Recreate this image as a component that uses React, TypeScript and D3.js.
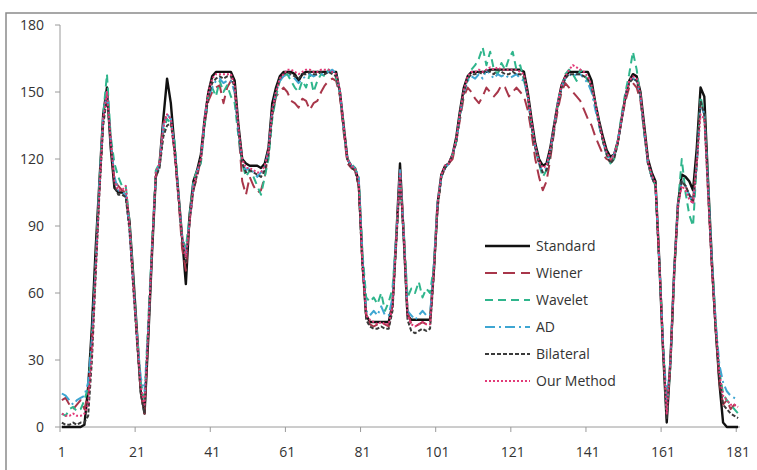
import React from "react";
import * as d3 from "d3";

const yTicks = [0, 30, 60, 90, 120, 150, 180];
const xTickLabels = [1, 21, 41, 61, 81, 101, 121, 141, 161, 181];
const seriesNames = ["Standard", "Wiener", "Wavelet", "AD", "Bilateral", "Our Method"];

const standard = [
  0, 0, 0, 0, 0, 0, 1, 18, 45, 80,
  110, 140, 152, 125, 107, 105, 105, 104, 92, 68,
  42, 16, 6, 40, 78, 112, 118, 138, 156, 145,
  125, 105, 85, 64, 95, 110, 115, 122, 138, 150,
  157, 159, 159, 159, 159, 159, 155, 135, 120, 118,
  117, 117, 117, 116, 118, 125, 145, 152, 157, 159,
  159, 159, 158, 155, 158, 159, 159, 159, 159, 159,
  159, 159, 159, 159, 150, 135, 120, 117, 116, 110,
  75, 50, 47, 47, 47, 47, 47, 47, 55, 85,
  118, 85, 50, 48, 48, 48, 48, 48, 48, 70,
  100, 113, 117, 118, 122, 130, 142, 152, 157, 159,
  159, 159, 159, 159, 160, 160, 160, 160, 160, 160,
  160, 160, 160, 159, 150, 138, 127, 120, 117, 118,
  125, 135, 145, 153, 157, 159, 159, 159, 159, 159,
  159, 155, 145, 137, 130, 124, 121, 122, 128, 138,
  148, 155, 158, 157, 150, 135, 120, 114, 110, 75,
  35, 2, 30, 70, 100, 113, 112, 110, 106, 125,
  152, 148, 110, 75, 45, 20, 2, 0, 0, 0, 0,
];

const wiener = [
  12, 13, 10, 8, 10, 12, 8, 15, 38, 72,
  108, 138, 150, 128, 110, 108, 106, 105, 90, 66,
  40, 15, 6, 42, 80, 112, 118, 136, 140, 138,
  122, 103, 80, 70, 92, 106, 112, 120, 136, 146,
  150, 152, 153, 145, 152, 155, 150, 133, 110, 104,
  112, 108, 105, 106, 112, 123, 140, 148, 150, 152,
  150, 146, 145, 143, 147, 146, 142, 145, 146, 150,
  153, 155, 156, 155, 148, 132, 118, 116, 115, 108,
  72, 50, 46, 45, 46, 47, 46, 45, 55, 85,
  115, 88, 52, 46, 45, 46, 47, 46, 46, 70,
  98, 112, 116, 118, 120, 128, 138, 148, 152, 150,
  147, 145, 148, 152, 150, 148, 150, 153, 152, 148,
  150, 152, 150, 148, 142, 132, 120, 112, 106, 110,
  120, 132, 142, 150, 154, 152, 150, 148, 146, 142,
  138, 135, 130, 126, 122, 120, 119, 121, 128, 138,
  146, 152, 154, 152, 146, 132, 118, 112, 108, 75,
  38, 8, 28, 68, 98, 110, 108, 104, 102, 120,
  145, 140, 105, 72, 44, 20, 10, 12, 8, 10, 8,
];

const wavelet = [
  6, 5, 8, 9, 7, 8, 12, 18, 38, 72,
  110, 140, 158, 130, 118, 112, 108, 108, 92, 66,
  42, 20, 12, 48, 82, 115, 118, 132, 138, 136,
  128, 105, 85, 80, 95, 110, 115, 118, 135, 148,
  152, 148, 155, 150, 153, 148, 145, 130, 118, 112,
  115, 112, 108, 104, 112, 120, 138, 148, 155, 157,
  158, 155, 152, 150, 155, 152, 158, 150, 155, 158,
  157, 160, 158, 156, 150, 134, 120, 118, 116, 112,
  78, 58, 56, 58, 55, 60, 52, 56, 62, 85,
  112, 88, 58, 62, 60, 65, 58, 62, 60, 72,
  100, 112, 116, 118, 122, 128, 140, 150, 155, 160,
  162, 165, 170, 162, 168, 160, 158, 163, 160, 165,
  168, 160, 162, 155, 148, 135, 125, 118, 112, 115,
  122, 133, 145, 152, 158, 160, 158, 155, 160, 158,
  155, 152, 145, 135, 128, 122, 118, 120, 128, 140,
  150, 158, 168, 160, 148, 132, 118, 112, 108, 75,
  38, 6, 28, 70, 100, 120, 105, 95, 90, 118,
  148, 140, 110, 75, 48, 25, 15, 12, 10, 8, 6,
];

const ad = [
  15, 14, 12, 10, 12, 13, 14, 20, 40, 72,
  108, 138, 150, 128, 112, 106, 105, 104, 88, 64,
  40, 22, 16, 45, 80, 112, 118, 135, 140, 138,
  125, 105, 85, 78, 92, 108, 114, 120, 138, 148,
  152, 155, 156, 154, 155, 155, 150, 132, 118, 115,
  116, 114, 112, 114, 116, 124, 142, 150, 155, 157,
  158, 157, 156, 154, 156, 157, 158, 157, 158, 158,
  158, 159, 160, 158, 150, 134, 120, 117, 116, 112,
  76, 52, 50, 52, 50, 54, 50, 50, 58, 85,
  115, 86, 52, 50, 48, 50, 52, 50, 50, 72,
  100, 112, 116, 118, 122, 128, 140, 150, 155, 157,
  156, 158, 156, 160, 158, 156, 158, 157, 158, 156,
  157, 158, 156, 155, 148, 135, 125, 118, 114, 116,
  124, 134, 145, 152, 156, 158, 157, 158, 158, 156,
  154, 150, 142, 135, 128, 122, 120, 122, 128, 138,
  148, 155, 156, 155, 148, 132, 118, 112, 108, 75,
  38, 12, 30, 70, 100, 110, 108, 104, 100, 118,
  145, 140, 108, 74, 48, 28, 20, 16, 14, 13, 12,
];

const bilateral = [
  2, 1, 1, 2, 1, 2, 2, 5, 30, 68,
  105, 135, 148, 128, 108, 104, 104, 103, 88, 62,
  38, 15, 6, 42, 80, 112, 116, 130, 135, 136,
  124, 104, 84, 74, 92, 106, 113, 120, 136, 148,
  154, 156, 157, 156, 157, 157, 152, 133, 118, 114,
  115, 114, 113, 112, 115, 122, 140, 150, 156, 158,
  159, 158, 157, 156, 158, 158, 159, 158, 158, 159,
  158, 159, 158, 157, 150, 134, 120, 116, 115, 108,
  72, 48, 45, 44, 44, 45, 44, 44, 52, 82,
  112, 84, 48, 43, 42, 43, 44, 43, 44, 68,
  98, 112, 116, 118, 122, 128, 140, 150, 156, 158,
  158, 159, 158, 160, 159, 158, 160, 159, 158, 158,
  159, 158, 158, 157, 148, 135, 125, 118, 114, 115,
  122, 133, 144, 152, 156, 158, 158, 158, 158, 157,
  156, 152, 145, 136, 128, 122, 118, 120, 127, 138,
  148, 154, 156, 155, 148, 133, 118, 112, 108, 74,
  36, 4, 30, 70, 100, 110, 108, 104, 100, 118,
  146, 140, 106, 72, 44, 22, 10, 8, 6, 5, 4,
];

const ourMethod = [
  6, 5, 5, 6, 5, 5, 6, 10, 34, 70,
  106, 138, 150, 128, 110, 106, 106, 108, 90, 64,
  40, 18, 10, 44, 80, 114, 118, 134, 140, 138,
  124, 104, 85, 76, 92, 108, 114, 120, 138, 150,
  156, 158, 158, 158, 158, 158, 153, 134, 120, 116,
  116, 115, 114, 114, 117, 124, 142, 150, 156, 158,
  160, 160, 159, 158, 159, 160, 160, 159, 159, 160,
  160, 160, 159, 158, 151, 135, 120, 117, 116, 110,
  74, 50, 48, 47, 46, 47, 46, 46, 54, 84,
  114, 86, 50, 46, 45, 46, 47, 46, 46, 70,
  100, 113, 117, 118, 122, 129, 141, 151, 157, 159,
  159, 160, 159, 160, 161, 160, 161, 160, 160, 160,
  160, 160, 159, 158, 149, 137, 126, 119, 116, 117,
  124, 134, 145, 153, 157, 160, 162, 161, 160, 159,
  157, 153, 145, 136, 129, 123, 120, 122, 128, 138,
  148, 155, 157, 156, 149, 134, 119, 113, 109, 75,
  36, 6, 30, 70, 100, 108, 106, 102, 100, 118,
  140, 138, 106, 72, 46, 24, 14, 12, 10, 10, 9,
];

const seriesData = [standard, wiener, wavelet, ad, bilateral, ourMethod];
const seriesColors = ["#111111", "#a8364a", "#2fb58c", "#3ea6d2", "#3a3a3a", "#e23a78"];
const seriesDash = ["", "12,6", "8,5", "10,4,2,4", "4,2", "2,2"];
const seriesWidth = [2.4, 2, 2, 2, 2, 2];

const W = 757;
const H = 470;
const plot = { left: 60, right: 740, top: 25, bottom: 427 };
const nCat = 181;

export default function App() {
  const x = d3.scaleLinear().domain([0.5, nCat + 0.5]).range([plot.left, plot.right]);
  const y = d3.scaleLinear().domain([0, 180]).range([plot.bottom, plot.top]);
  const line = d3
    .line<number>()
    .x((_, i) => x(i + 1))
    .y((d) => y(d));

  const boundaryTicks = d3.range(0, nCat, 20).map((k) => k + 0.5);

  const legendX1 = 485;
  const legendX2 = 530;
  const legendY0 = 246;
  const legendStep = 27;

  return (
    <svg
      width={W}
      height={H}
      style={{ position: "absolute", left: 0, top: 0, background: "#fff" }}
      fontFamily="'Open Sans', 'DejaVu Sans', sans-serif"
    >
      <rect x={0} y={0} width={W} height={H} fill="#fff" />
      <rect x={6} y={13} width={W + 10} height={H + 10} fill="none" stroke="#8a8a8a" strokeWidth={1.5} />

      {/* axes */}
      <line x1={plot.left} x2={plot.left} y1={plot.top} y2={plot.bottom} stroke="#9a9a9a" strokeWidth={1} />
      <line x1={plot.left} x2={plot.right} y1={plot.bottom} y2={plot.bottom} stroke="#9a9a9a" strokeWidth={1} />
      {yTicks.map((t) => (
        <g key={"y" + t}>
          <line x1={plot.left - 5} x2={plot.left} y1={y(t)} y2={y(t)} stroke="#9a9a9a" />
          <text x={44} y={y(t)} dy="0.35em" textAnchor="end" fontSize={14} fill="#333">
            {t}
          </text>
        </g>
      ))}
      {boundaryTicks.map((b) => (
        <line key={"xt" + b} x1={x(b)} x2={x(b)} y1={plot.bottom} y2={plot.bottom + 5} stroke="#9a9a9a" />
      ))}
      {xTickLabels.map((t) => (
        <text key={"x" + t} x={x(t)} y={457} textAnchor="middle" fontSize={14} fill="#333">
          {t}
        </text>
      ))}

      {/* series */}
      {seriesData.map((d, k) => (
        <path
          key={seriesNames[k]}
          d={line(d) || ""}
          fill="none"
          stroke={seriesColors[k]}
          strokeWidth={seriesWidth[k]}
          strokeDasharray={seriesDash[k] || undefined}
          strokeLinejoin="round"
        />
      ))}

      {/* legend */}
      {seriesNames.map((name, k) => (
        <g key={"lg" + name}>
          <line
            x1={legendX1}
            x2={legendX2}
            y1={legendY0 + k * legendStep}
            y2={legendY0 + k * legendStep}
            stroke={seriesColors[k]}
            strokeWidth={seriesWidth[k]}
            strokeDasharray={seriesDash[k] || undefined}
          />
          <text x={legendX2 + 6} y={legendY0 + k * legendStep} dy="0.35em" fontSize={14} fill="#333">
            {name}
          </text>
        </g>
      ))}
    </svg>
  );
}
